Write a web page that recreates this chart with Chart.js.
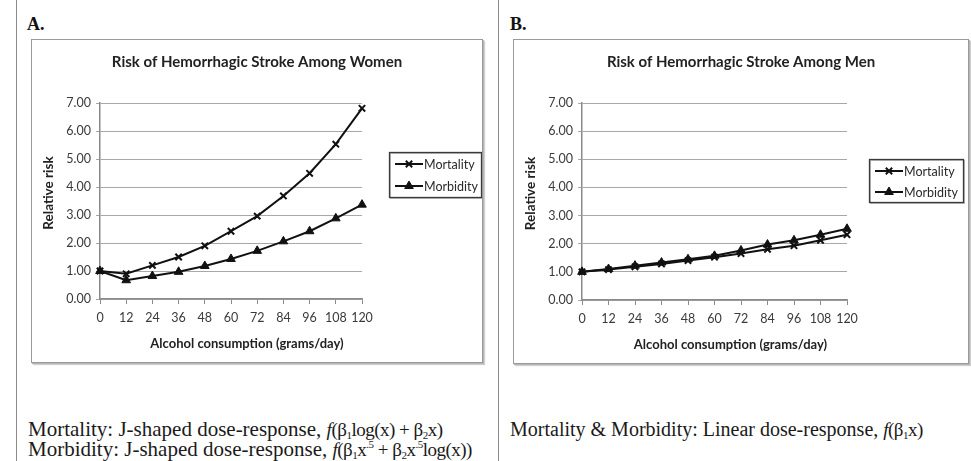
<!DOCTYPE html>
<html>
<head>
<meta charset="utf-8">
<script src="https://cdn.jsdelivr.net/npm/chart.js@4.4.1/dist/chart.umd.min.js"></script>
<style>
  html, body { margin: 0; padding: 0; background: #fff; }
  body { width: 971px; height: 461px; position: relative; overflow: hidden; }
  .rule { position: absolute; top: 0; width: 0; height: 461px; border-left: 1.5px solid #8a8a8a; }
  .panel-tag { position: absolute; font: bold 18px/18px "Liberation Serif", serif; color: #111; }
  .frame { position: absolute; border: 1px solid #9a9a9a; box-shadow: 1px 1px 0 #b5b5b5, 2px 2px 1px #d0d0d0; background: #fff; }
  .frame canvas { position: absolute; left: 0; top: 0; }
  .note { position: absolute; font-family: "Liberation Serif", serif; line-height: 20px; color: #1a1a1a; white-space: nowrap; }
  .note .fx { font-size: 19px; letter-spacing: -0.5px; }
  .note i { font-style: italic; }
  .note sub { font-size: 11px; vertical-align: -3px; line-height: 0; }
  .note sup { font-size: 11px; vertical-align: 8px; line-height: 0; }
</style>
</head>
<body>
<div class="rule" style="left:16px"></div>
<div class="rule" style="left:498px"></div>

<div class="panel-tag" style="left:27px; top:15px">A.</div>
<div class="panel-tag" style="left:510px; top:15px">B.</div>

<div class="frame" style="left:31px; top:39px; width:450px; height:322px">
  <canvas id="women" width="450" height="322"></canvas>
</div>
<div class="frame" style="left:513px; top:39px; width:454px; height:323px">
  <canvas id="men" width="454" height="323"></canvas>
</div>

<div class="note" style="left:28px; top:419px; font-size:21px">Mortality: J-shaped dose-response, <span class="fx"><i>f</i>(β<sub>1</sub>log(x) + β<sub>2</sub>x)</span></div>
<div class="note" style="left:28px; top:439px; font-size:21px">Morbidity: J-shaped dose-response, <span class="fx"><i>f</i>(β<sub>1</sub>x<sup>.5</sup> + β<sub>2</sub>x<sup>.5</sup>log(x))</span></div>
<div class="note" style="left:510px; top:419px; font-size:20px">Mortality &amp; Morbidity: Linear dose-response, <span class="fx"><i>f</i>(β<sub>1</sub>x)</span></div>

<script>
// Alcohol intake levels (grams/day) on the x axis
const doses = [0, 12, 24, 36, 48, 60, 72, 84, 96, 108, 120];

// Relative risk of hemorrhagic stroke, women
const womenMortality = [1.00, 0.90, 1.20, 1.50, 1.90, 2.42, 2.96, 3.68, 4.49, 5.53, 6.81];
const womenMorbidity = [1.00, 0.67, 0.82, 0.97, 1.18, 1.43, 1.72, 2.06, 2.42, 2.88, 3.37];

// Relative risk of hemorrhagic stroke, men
const menMortality = [1.00, 1.08, 1.18, 1.28, 1.40, 1.52, 1.65, 1.80, 1.93, 2.12, 2.32];
const menMorbidity = [1.00, 1.10, 1.22, 1.33, 1.45, 1.57, 1.76, 1.97, 2.12, 2.32, 2.53];

const seriesNames = ['Mortality', 'Morbidity'];
const xAxisTitle = 'Alcohol consumption (grams/day)';
const yAxisTitle = 'Relative risk';
const chartFont = 'Lato, "Open Sans", sans-serif';

// Legend drawn as a framed box to the right of the plot area
const boxedLegend = {
  id: 'boxedLegend',
  afterDraw(chart, args, opts) {
    const ctx = chart.ctx;
    const x0 = chart.chartArea.right + opts.gap;
    const y0 = opts.top;
    ctx.save();
    ctx.strokeStyle = '#bbbbbb';
    ctx.lineWidth = 1;
    ctx.strokeRect(x0 + 1.5, y0 + 1.5, opts.width, opts.height);
    ctx.strokeStyle = '#3a3a3a';
    ctx.lineWidth = 1.3;
    ctx.strokeRect(x0 + 0.5, y0 + 0.5, opts.width, opts.height);
    chart.data.datasets.forEach((ds, i) => {
      const y = y0 + opts.firstRow + i * opts.rowGap;
      const lx = x0 + 6, rx = x0 + 34;
      ctx.strokeStyle = ds.borderColor;
      ctx.lineWidth = ds.borderWidth;
      ctx.beginPath();
      ctx.moveTo(lx, y);
      ctx.lineTo(rx, y);
      ctx.stroke();
      ctx.fillStyle = ds.pointBackgroundColor;
      ctx.strokeStyle = ds.pointBorderColor;
      ctx.lineWidth = ds.pointBorderWidth;
      Chart.helpers.drawPoint(ctx, {
        pointStyle: ds.pointStyle, radius: ds.pointRadius, rotation: 0, borderWidth: ds.pointBorderWidth
      }, (lx + rx) / 2, y);
      ctx.fillStyle = '#2a2a2a';
      ctx.font = '12.5px ' + chartFont;
      ctx.textBaseline = 'middle';
      ctx.textAlign = 'left';
      ctx.fillText(ds.label, rx + 1, y + 0.5);
    });
    ctx.restore();
  }
};

// Axis captions, placed relative to the plot area
const axisCaptions = {
  id: 'axisCaptions',
  afterDraw(chart, args, opts) {
    const { ctx, chartArea: a } = chart;
    ctx.save();
    ctx.fillStyle = '#222';
    ctx.textAlign = 'center';
    ctx.textBaseline = 'middle';
    ctx.font = 'bold 13px ' + chartFont;
    ctx.fillText(xAxisTitle, (a.left + a.right) / 2 + opts.xShift, a.bottom + opts.xDrop);
    ctx.font = 'bold 13.5px ' + chartFont;
    ctx.translate(opts.yCenter, (a.top + a.bottom) / 2 + opts.yShift);
    ctx.rotate(-Math.PI / 2);
    ctx.fillText(yAxisTitle, 0, 0);
    ctx.restore();
  }
};

function series(label, values, style) {
  return {
    label: label,
    data: values,
    borderColor: '#111',
    borderWidth: 2,
    pointStyle: style,
    pointRadius: style === 'triangle' ? 5 : 4.5,
    pointBorderWidth: style === 'triangle' ? 1 : 2,
    pointBackgroundColor: '#111',
    pointBorderColor: '#111',
    tension: 0,
    fill: false
  };
}

function makeChart(id, title, mortality, morbidity, legendOpts, rightSpace) {
  return new Chart(document.getElementById(id), {
    type: 'line',
    data: {
      labels: doses,
      datasets: [
        series(seriesNames[0], mortality, 'crossRot'),
        series(seriesNames[1], morbidity, 'triangle')
      ]
    },
    options: {
      responsive: false,
      animation: false,
      events: [],
      layout: { padding: 0 },
      plugins: {
        legend: { display: false },
        tooltip: { enabled: false },
        title: {
          display: true,
          text: title,
          color: '#222',
          font: { family: chartFont, size: 15, weight: 'bold' },
          padding: { top: 13, bottom: 32 }
        },
        boxedLegend: legendOpts,
        axisCaptions: { xShift: 16, xDrop: 45, yCenter: 17, yShift: -8 }
      },
      scales: {
        x: {
          type: 'category',
          offset: false,
          grid: { display: true, drawOnChartArea: false, drawTicks: true, tickLength: 5, color: '#8a8a8a' },
          border: { color: '#8a8a8a', width: 1.5 },
          ticks: { color: '#3a3a3a', font: { family: chartFont, size: 12.5 }, padding: 6, maxRotation: 0, autoSkip: false },
          afterFit(scale) { scale.height = 63; }
        },
        y: {
          min: 0,
          max: 7,
          grid: { color: '#a8a8a8', lineWidth: 1, tickLength: 4, drawTicks: true },
          border: { color: '#8a8a8a', width: 1.5 },
          ticks: {
            stepSize: 1,
            color: '#3a3a3a',
            font: { family: chartFont, size: 12.5 },
            padding: 5,
            callback: v => Number(v).toFixed(2)
          },
          afterFit(scale) { scale.width = 68; }
        },
        // empty band on the right that holds the legend
        legendBand: {
          type: 'linear',
          position: 'right',
          display: true,
          grid: { display: false, drawTicks: false },
          border: { display: false },
          ticks: { display: false },
          afterFit(scale) { scale.width = rightSpace; }
        }
      }
    },
    plugins: [boxedLegend, axisCaptions]
  });
}

makeChart('women', 'Risk of Hemorrhagic Stroke Among Women', womenMortality, womenMorbidity,
  { gap: 27, top: 112, width: 92, height: 45, firstRow: 12, rowGap: 22 }, 120);
makeChart('men', 'Risk of Hemorrhagic Stroke Among Men', menMortality, menMorbidity,
  { gap: 22, top: 119, width: 94, height: 43, firstRow: 12, rowGap: 21 }, 121);
</script>
</body>
</html>
